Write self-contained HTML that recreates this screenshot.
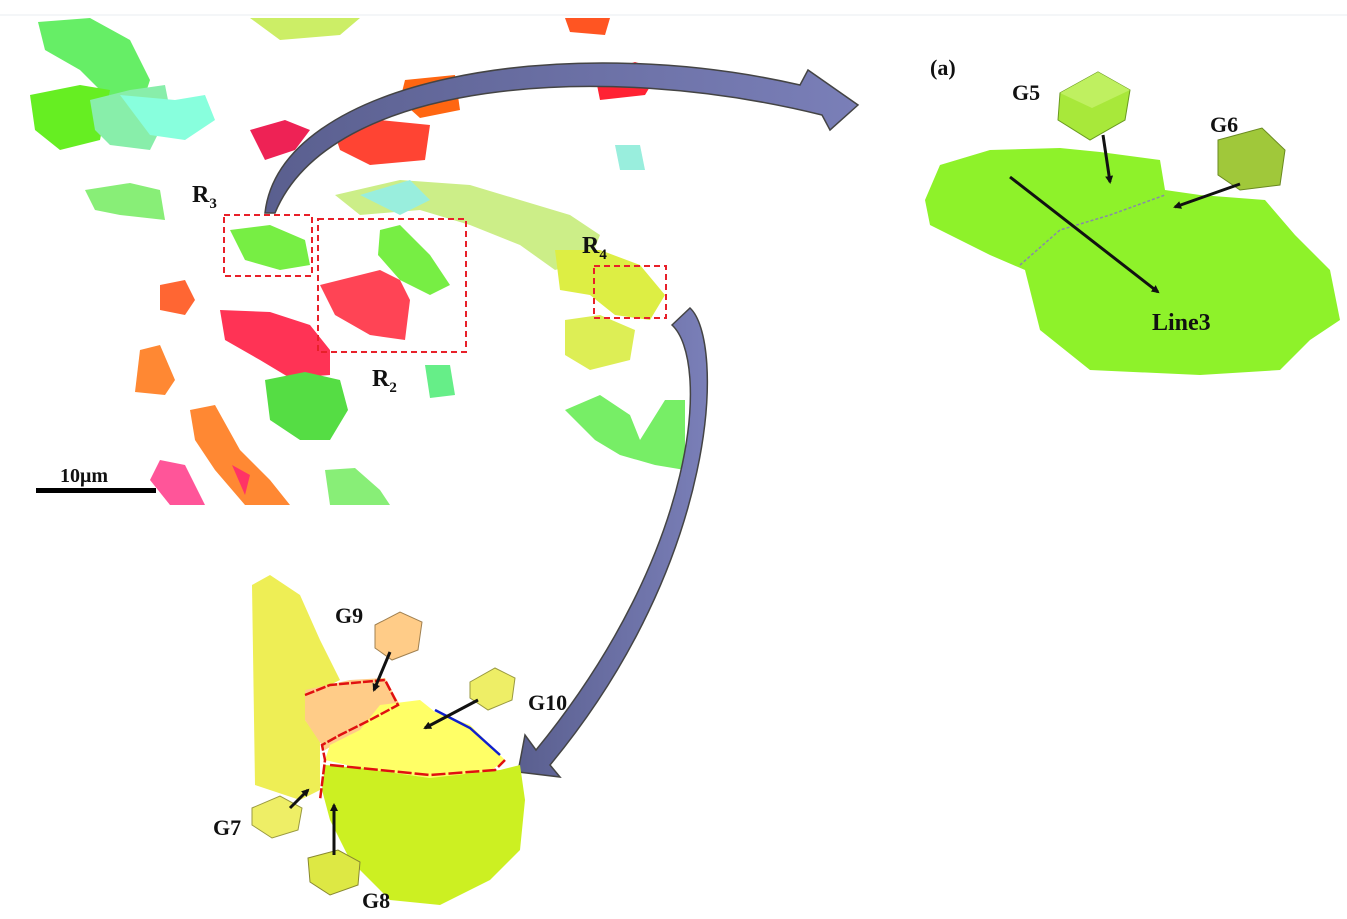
<!DOCTYPE html>
<html><head><meta charset="utf-8"><style>
html,body{margin:0;padding:0;background:#fff;}
svg{display:block}
text{font-family:"Liberation Serif",serif;font-weight:bold;fill:#111}
</style></head><body>
<svg width="1347" height="919" viewBox="0 0 1347 919" xmlns="http://www.w3.org/2000/svg">
<defs>
<marker id="ah" markerWidth="8" markerHeight="8" refX="6" refY="4" orient="auto" markerUnits="userSpaceOnUse"><path d="M0,0 L8,4 L0,8 z" fill="#111"/></marker>
<linearGradient id="arr" x1="0" y1="0" x2="1" y2="0"><stop offset="0" stop-color="#5a5f8f"/><stop offset="1" stop-color="#7a7fb8"/></linearGradient>
</defs>
<line x1="0" y1="15" x2="1347" y2="15" stroke="#e8eef0" stroke-width="1"/>
<!-- top-left map grains -->
<path d="M38,22 L90,18 L130,40 L150,80 L140,110 L110,100 L80,70 L45,50 Z" fill="#66ee66"/>
<path d="M30,95 L80,85 L110,90 L100,140 L60,150 L35,130 Z" fill="#66ee22"/>
<path d="M90,100 L130,90 L165,85 L170,110 L150,150 L110,145 L95,130 Z" fill="#88eeaa"/>
<path d="M120,95 L175,100 L205,95 L215,120 L185,140 L150,135 Z" fill="#88ffdd"/>
<path d="M250,18 L360,18 L340,35 L280,40 Z" fill="#ccee66"/>
<path d="M565,18 L610,18 L605,35 L570,32 Z" fill="#ff5522"/>
<path d="M405,80 L455,75 L460,110 L420,118 L400,100 Z" fill="#ff6611"/>
<path d="M595,75 L635,62 L660,70 L645,95 L600,100 Z" fill="#ff2233"/>
<path d="M250,130 L285,120 L310,130 L295,150 L265,160 Z" fill="#ee2255"/>
<path d="M335,135 L380,120 L430,125 L425,160 L370,165 L340,150 Z" fill="#ff4433"/>
<path d="M615,145 L640,145 L645,170 L620,170 Z" fill="#99eedd"/>
<path d="M85,190 L130,183 L160,190 L165,220 L120,215 L95,210 Z" fill="#88ee77"/>
<path d="M335,195 L400,180 L470,185 L520,200 L570,215 L600,235 L590,260 L555,270 L520,245 L470,225 L420,210 L360,215 Z" fill="#ccee88"/>
<path d="M360,195 L410,180 L430,200 L400,215 Z" fill="#99eedd"/>
<path d="M555,250 L600,250 L640,265 L665,295 L650,320 L615,315 L590,295 L560,290 Z" fill="#ddee44"/>
<path d="M230,230 L270,225 L305,240 L310,265 L280,270 L245,260 Z" fill="#77ee44"/>
<path d="M380,230 L400,225 L430,255 L450,285 L430,295 L400,280 L378,255 Z" fill="#77ee44"/>
<path d="M320,285 L380,270 L400,280 L410,300 L405,340 L370,335 L335,315 Z" fill="#ff4455"/>
<path d="M160,285 L185,280 L195,300 L185,315 L160,310 Z" fill="#ff6633"/>
<path d="M220,310 L270,312 L310,325 L330,350 L330,375 L290,378 L260,360 L225,340 Z" fill="#ff3355"/>
<path d="M565,320 L600,315 L635,330 L630,360 L590,370 L565,355 Z" fill="#ddee55"/>
<path d="M140,350 L160,345 L175,380 L165,395 L135,392 Z" fill="#ff8833"/>
<path d="M265,380 L305,372 L340,380 L348,410 L330,440 L300,440 L270,420 Z" fill="#55dd44"/>
<path d="M425,365 L450,365 L455,395 L430,398 Z" fill="#66ee88"/>
<path d="M565,410 L600,395 L630,415 L640,440 L665,400 L685,400 L685,470 L655,465 L620,455 L595,440 Z" fill="#77ee66"/>
<path d="M190,410 L215,405 L240,450 L270,480 L290,505 L245,505 L215,470 L195,440 Z" fill="#ff8833"/>
<path d="M325,470 L355,468 L380,490 L390,505 L330,505 Z" fill="#88ee77"/>
<path d="M160,460 L185,465 L205,505 L170,505 L150,480 Z" fill="#ff5599"/>
<path d="M232,465 L250,475 L245,495 Z" fill="#ff3366"/>
<rect x="36" y="488" width="120" height="5" fill="#000"/>
<text x="60" y="482" font-size="20">10μm</text>
<!-- dashed boxes -->
<rect x="224" y="215" width="88" height="61" fill="none" stroke="#e8202a" stroke-width="2" stroke-dasharray="6,4"/>
<rect x="318" y="219" width="148" height="133" fill="none" stroke="#e8202a" stroke-width="2" stroke-dasharray="6,4"/>
<rect x="594" y="266" width="72" height="52" fill="none" stroke="#e8202a" stroke-width="2" stroke-dasharray="6,4"/>
<text x="192" y="202" font-size="24">R<tspan font-size="15" dy="6">3</tspan></text>
<text x="372" y="386" font-size="24">R<tspan font-size="15" dy="6">2</tspan></text>
<text x="582" y="253" font-size="24">R<tspan font-size="15" dy="6">4</tspan></text>
<!-- curved arrows -->
<path d="M265,213 C280,80 560,30 800,85 L808,70 L858,105 L830,130 L822,115 C600,60 330,80 275,213 Z" fill="url(#arr)" stroke="#444" stroke-width="1.5"/>
<path d="M672,325 L690,308 C725,340 720,560 550,765 L560,777 L518,772 L525,735 L536,750 C700,550 710,360 672,325 Z" fill="url(#arr)" stroke="#444" stroke-width="1.5"/>
<!-- right grain -->
<path d="M940,165 L990,150 L1060,148 L1100,152 L1160,160 L1165,190 L1200,195 L1265,200 L1295,235 L1330,270 L1340,320 L1310,340 L1280,370 L1200,375 L1090,370 L1040,330 L1025,270 L990,255 L930,225 L925,200 Z" fill="#8ef22a"/>
<path d="M1020,265 L1060,230 L1110,215 L1165,195" fill="none" stroke="#8888aa" stroke-width="1.5" stroke-dasharray="3,2"/>
<line x1="1010" y1="177" x2="1158" y2="292" stroke="#111" stroke-width="3" marker-end="url(#ah)"/>
<text x="1152" y="330" font-size="24">Line3</text>
<text x="930" y="75" font-size="22">(a)</text>
<text x="1012" y="100" font-size="22">G5</text>
<text x="1210" y="132" font-size="22">G6</text>
<path d="M1060,93 L1098,72 L1130,90 L1125,120 L1090,140 L1058,120 Z" fill="#a8e83a" stroke="#6a9a20"/>
<path d="M1060,93 L1098,72 L1130,90 L1092,108 Z" fill="#bff060"/>
<path d="M1218,140 L1262,128 L1285,150 L1280,185 L1240,190 L1218,175 Z" fill="#a0c83a" stroke="#6a8a20"/>
<line x1="1103" y1="135" x2="1110" y2="182" stroke="#111" stroke-width="3" marker-end="url(#ah)"/>
<line x1="1240" y1="184" x2="1175" y2="207" stroke="#111" stroke-width="3" marker-end="url(#ah)"/>
<!-- bottom grain -->
<path d="M252,585 L270,575 L300,595 L320,640 L340,680 L310,695 L305,720 L320,740 L320,790 L300,800 L255,785 Z" fill="#eeee55"/>
<path d="M305,690 L350,680 L385,678 L400,705 L380,725 L350,735 L325,750 L305,720 Z" fill="#ffcc88"/>
<path d="M380,705 L420,700 L435,712 L470,725 L505,760 L485,775 L430,778 L360,768 L325,760 L330,745 L360,730 Z" fill="#ffff66"/>
<path d="M325,765 L360,768 L430,778 L500,770 L520,765 L525,800 L520,850 L490,880 L440,905 L390,900 L350,860 L330,820 L322,790 Z" fill="#ccf022"/>
<path d="M305,695 L330,685 L385,680 L398,705 L370,720 L340,735 L322,745 L325,760 L320,800" fill="none" stroke="#e01010" stroke-width="2.5" stroke-dasharray="10,2"/>
<path d="M330,765 L430,775 L495,770 L505,760" fill="none" stroke="#e01010" stroke-width="2.5" stroke-dasharray="14,3"/>
<path d="M435,710 L470,728 L500,755" fill="none" stroke="#1020cc" stroke-width="2.5"/>
<text x="335" y="623" font-size="22">G9</text>
<text x="528" y="710" font-size="22">G10</text>
<text x="213" y="835" font-size="22">G7</text>
<text x="362" y="908" font-size="22">G8</text>
<path d="M375,625 L400,612 L422,622 L418,650 L392,660 L375,648 Z" fill="#ffcc88" stroke="#a08050"/>
<path d="M470,682 L495,668 L515,678 L512,700 L488,710 L470,698 Z" fill="#eeee66" stroke="#999940"/>
<path d="M252,808 L280,796 L302,808 L298,830 L272,838 L252,825 Z" fill="#eeee66" stroke="#999940"/>
<path d="M308,858 L338,850 L360,862 L358,885 L330,895 L310,882 Z" fill="#dde844" stroke="#888830"/>
<line x1="390" y1="652" x2="374" y2="690" stroke="#111" stroke-width="3" marker-end="url(#ah)"/>
<line x1="478" y1="700" x2="425" y2="728" stroke="#111" stroke-width="3" marker-end="url(#ah)"/>
<line x1="290" y1="808" x2="308" y2="790" stroke="#111" stroke-width="3" marker-end="url(#ah)"/>
<line x1="334" y1="855" x2="334" y2="805" stroke="#111" stroke-width="3" marker-end="url(#ah)"/>
</svg>
</body></html>
